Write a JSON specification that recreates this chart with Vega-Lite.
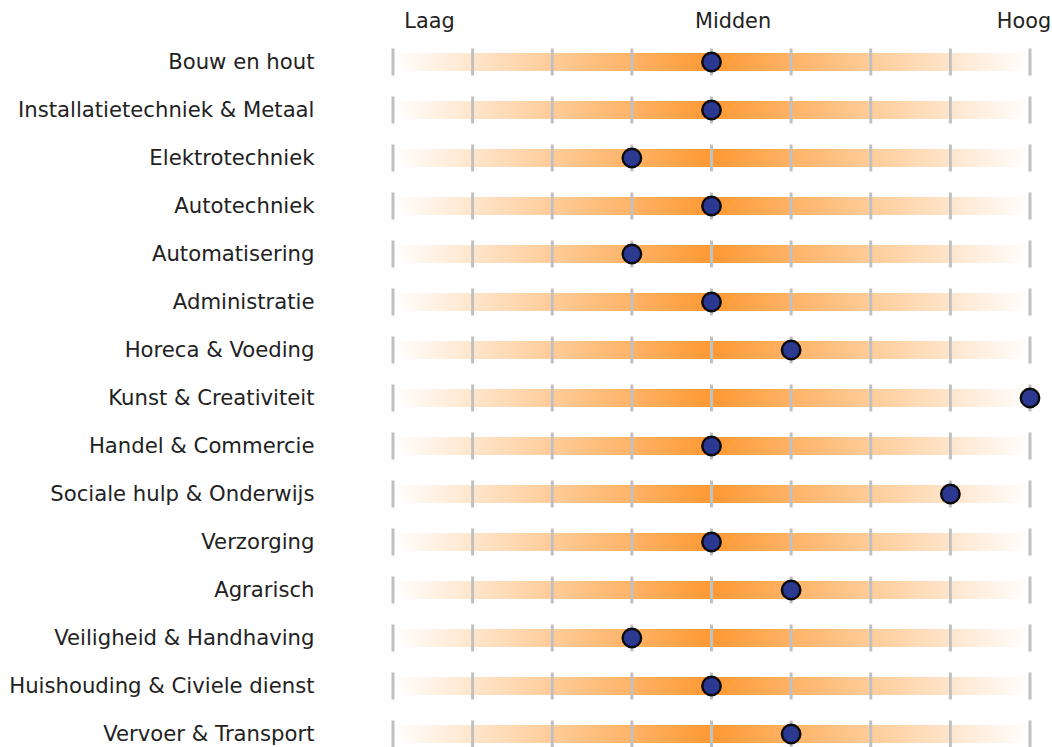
{
  "$schema": "https://vega.github.io/schema/vega-lite/v6.json",
  "width": 637,
  "height": 696,
  "autosize": {"type": "none"},
  "padding": {"left": 393, "top": 50, "right": 22, "bottom": 1},
  "background": "white",
  "config": {"view": {"stroke": null}, "font": "DejaVu Sans"},
  "data": {
    "values": [
      {"c": "Bouw en hout", "v": 4, "levels": [0,1,2,3,4,5,6,7,8]},
      {"c": "Installatietechniek & Metaal", "v": 4, "levels": [0,1,2,3,4,5,6,7,8]},
      {"c": "Elektrotechniek", "v": 3, "levels": [0,1,2,3,4,5,6,7,8]},
      {"c": "Autotechniek", "v": 4, "levels": [0,1,2,3,4,5,6,7,8]},
      {"c": "Automatisering", "v": 3, "levels": [0,1,2,3,4,5,6,7,8]},
      {"c": "Administratie", "v": 4, "levels": [0,1,2,3,4,5,6,7,8]},
      {"c": "Horeca & Voeding", "v": 5, "levels": [0,1,2,3,4,5,6,7,8]},
      {"c": "Kunst & Creativiteit", "v": 8, "levels": [0,1,2,3,4,5,6,7,8]},
      {"c": "Handel & Commercie", "v": 4, "levels": [0,1,2,3,4,5,6,7,8]},
      {"c": "Sociale hulp & Onderwijs", "v": 7, "levels": [0,1,2,3,4,5,6,7,8]},
      {"c": "Verzorging", "v": 4, "levels": [0,1,2,3,4,5,6,7,8]},
      {"c": "Agrarisch", "v": 5, "levels": [0,1,2,3,4,5,6,7,8]},
      {"c": "Veiligheid & Handhaving", "v": 3, "levels": [0,1,2,3,4,5,6,7,8]},
      {"c": "Huishouding & Civiele dienst", "v": 4, "levels": [0,1,2,3,4,5,6,7,8]},
      {"c": "Vervoer & Transport", "v": 5, "levels": [0,1,2,3,4,5,6,7,8]}
    ]
  },
  "encoding": {
    "y": {
      "field": "c",
      "type": "nominal",
      "sort": null,
      "scale": {"type": "point", "padding": 0.25},
      "axis": {
        "title": null,
        "domain": false,
        "ticks": false,
        "grid": false,
        "labelPadding": 79,
        "labelFontSize": 21.2,
        "labelLimit": 0,
        "labelColor": "#222222",
        "labelFont": "DejaVu Sans"
      }
    }
  },
  "layer": [
    {
      "mark": {
        "type": "bar",
        "size": 18,
        "color": {
          "gradient": "linear",
          "x1": 0, "x2": 1, "y1": 0, "y2": 0,
          "stops": [
            {"offset": 0, "color": "#FFFFFF"},
            {"offset": 0.5, "color": "#FF9933"},
            {"offset": 1, "color": "#FFFFFF"}
          ]
        }
      },
      "encoding": {
        "x": {
          "datum": 0,
          "type": "quantitative",
          "scale": {"domain": [0, 8], "nice": false, "zero": false},
          "axis": {
            "orient": "top",
            "title": null,
            "values": [0.452, 4.264, 7.918],
            "labelExpr": "datum.value < 1 ? 'Laag' : (datum.value < 5 ? 'Midden' : 'Hoog')",
            "domain": false,
            "ticks": false,
            "tickSize": 0,
            "grid": false,
            "labelFontSize": 20.8,
            "labelColor": "#222222",
            "labelFont": "DejaVu Sans",
            "labelBaseline": "alphabetic",
            "labelPadding": 23,
            "labelBound": false,
            "labelOverlap": false,
            "labelFlush": false,
            "labelLimit": 0
          }
        },
        "x2": {"datum": 8}
      }
    },
    {
      "transform": [{"flatten": ["levels"]}],
      "mark": {"type": "tick", "orient": "vertical", "size": 27, "thickness": 3, "color": "#C0C0C0", "opacity": 1},
      "encoding": {
        "x": {"field": "levels", "type": "quantitative"}
      }
    },
    {
      "mark": {
        "type": "point",
        "shape": "circle",
        "filled": true,
        "size": 340,
        "fill": "#2B3990",
        "stroke": "#0a0a0a",
        "strokeWidth": 2.4,
        "opacity": 1
      },
      "encoding": {
        "x": {"field": "v", "type": "quantitative"}
      }
    }
  ]
}
